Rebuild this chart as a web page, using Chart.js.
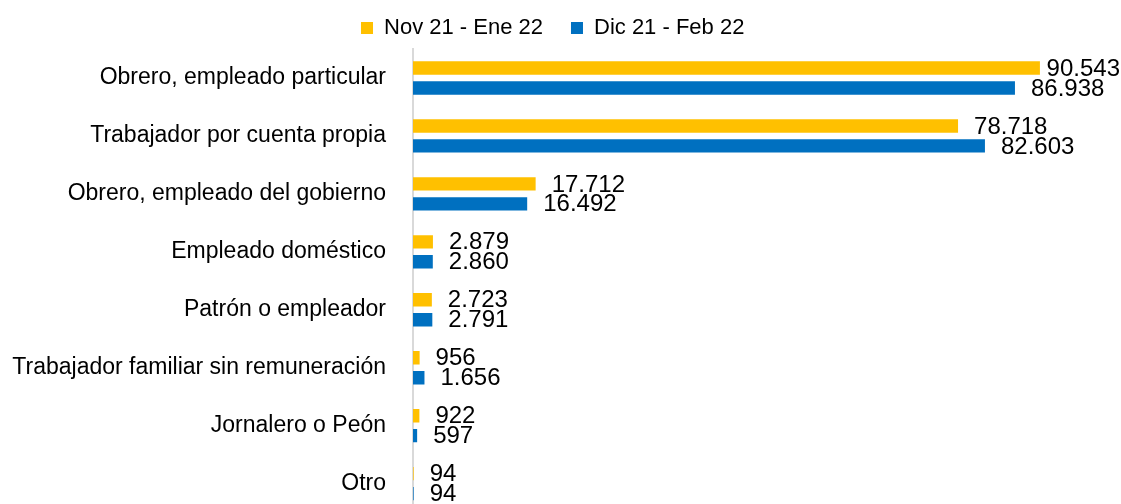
<!DOCTYPE html>
<html>
<head>
<meta charset="utf-8">
<script src="https://cdn.jsdelivr.net/npm/chart.js@4.4.0/dist/chart.umd.min.js"></script>
<style>
  html, body { margin: 0; padding: 0; background: #fff; overflow: hidden; }
  #wrap { width: 1121px; height: 520px; }
</style>
</head>
<body>
<div id="wrap"><canvas id="chart" width="1121" height="520"></canvas></div>
<script>
  var categories = [
    'Obrero, empleado particular',
    'Trabajador por cuenta propia',
    'Obrero, empleado del gobierno',
    'Empleado doméstico',
    'Patrón o empleador',
    'Trabajador familiar sin remuneración',
    'Jornalero o Peón',
    'Otro'
  ];
  var seriesNames = ['Nov 21 - Ene 22', 'Dic 21 - Feb 22'];
  var novEne = [90543, 78718, 17712, 2879, 2723, 956, 922, 94];
  var dicFeb = [86938, 82603, 16492, 2860, 2791, 1656, 597, 94];

  function fmt(v) {
    return String(v).replace(/\B(?=(\d{3})+(?!\d))/g, '.');
  }

  // etiquetas de valor al final de cada barra
  var valueLabels = {
    id: 'valueLabels',
    afterDatasetsDraw: function(chart) {
      var ctx = chart.ctx;
      ctx.save();
      ctx.font = '24px "Liberation Sans", Arial, sans-serif';
      ctx.fillStyle = '#000';
      ctx.textBaseline = 'middle';
      ctx.textAlign = 'left';
      chart.data.datasets.forEach(function(ds, i) {
        chart.getDatasetMeta(i).data.forEach(function(bar, j) {
          var txt = fmt(ds.data[j]);
          var w = ctx.measureText(txt).width;
          var x = Math.min(bar.x + 16, chart.width - 1 - w);
          ctx.fillText(txt, x, bar.y + 1);
        });
      });
      ctx.restore();
    }
  };

  new Chart(document.getElementById('chart').getContext('2d'), {
    type: 'bar',
    data: {
      labels: categories,
      datasets: [
        { label: seriesNames[0], data: novEne, backgroundColor: '#FFC000' },
        { label: seriesNames[1], data: dicFeb, backgroundColor: '#0070C0' }
      ]
    },
    options: {
      indexAxis: 'y',
      responsive: false,
      animation: false,
      categoryPercentage: 0.69,
      barPercentage: 0.67,
      layout: { padding: { left: 0, right: 15.6, top: -11, bottom: 7.4 } },
      plugins: {
        tooltip: { enabled: false },
        legend: {
          position: 'top',
          labels: {
            font: { family: '"Liberation Sans", Arial, sans-serif', size: 22 },
            color: '#000',
            boxWidth: 12,
            boxHeight: 12,
            padding: 28
          }
        }
      },
      scales: {
        x: { display: false, min: 0, max: 100000 },
        y: {
          afterFit: function(scale) {
            scale.width = 413;
            scale.paddingTop = 0;
            scale.paddingBottom = 0;
          },
          grid: { display: false, drawTicks: false },
          border: { display: true, color: '#D9D9D9', width: 2 },
          ticks: {
            padding: 27,
            color: '#000',
            font: { family: '"Liberation Sans", Arial, sans-serif', size: 23 }
          }
        }
      }
    },
    plugins: [valueLabels]
  });
</script>
</body>
</html>
